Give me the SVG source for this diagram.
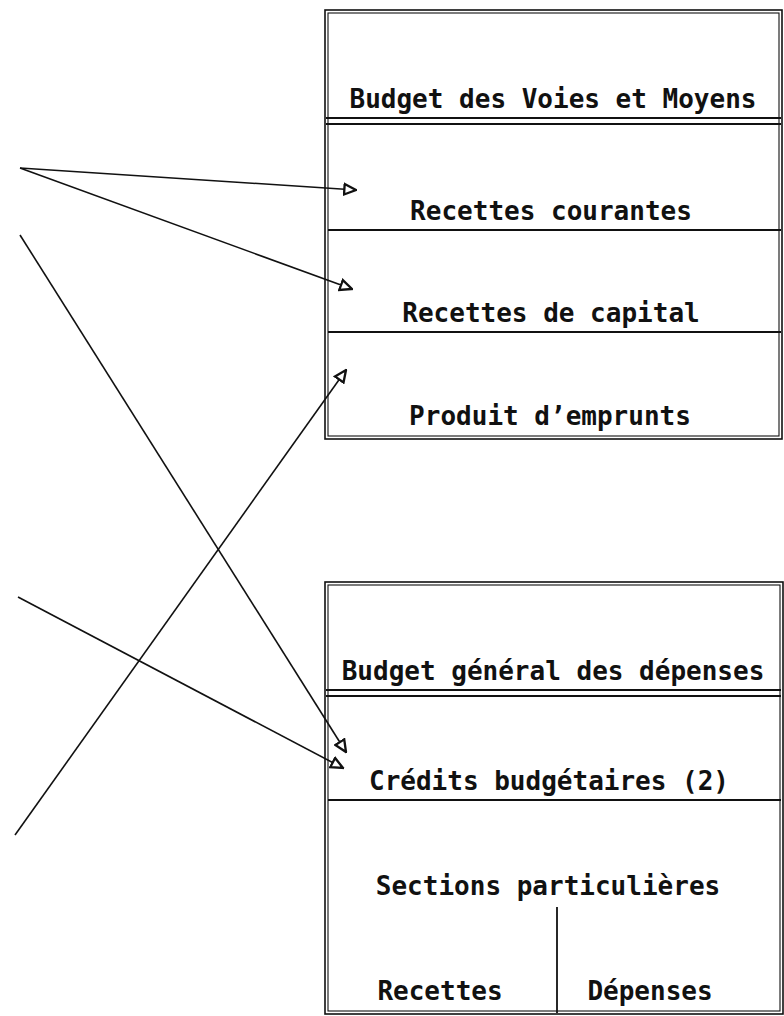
<svg xmlns="http://www.w3.org/2000/svg" width="784" height="1016" viewBox="0 0 784 1016">
<style>
.box{fill:none;stroke:#111;stroke-width:1.6}
.inner{fill:none;stroke:#111;stroke-width:1.1}
.div{stroke:#111;stroke-width:1.8}
.lbl{font-family:"DejaVu Sans Mono","Liberation Mono",monospace;font-size:26px;font-weight:bold;fill:#111;text-anchor:middle}
.con{stroke:#111;stroke-width:1.6;fill:none;marker-end:url(#arr)}
</style>
<defs>
<marker id="arr" markerUnits="userSpaceOnUse" markerWidth="14" markerHeight="14" viewBox="0 0 12 12" refX="11" refY="6" orient="auto">
<path d="M1,1.5 L11,6 L1,10.5 z" fill="#fff" stroke="#111" stroke-width="2"/>
</marker>
</defs>
<rect width="784" height="1016" fill="#fff"/>
<g id="budget-voies-moyens">
<rect class="box" x="325" y="10" width="457" height="429"/>
<rect class="inner" x="328" y="13" width="451" height="423"/>
<line class="div" x1="326" y1="118" x2="781" y2="118"/>
<line class="div" x1="326" y1="124" x2="781" y2="124"/>
<line class="div" x1="328" y1="230" x2="781" y2="230"/>
<line class="div" x1="328" y1="332" x2="781" y2="332"/>
<text class="lbl" x="553" y="108">Budget des Voies et Moyens</text>
</g>
<g id="recettes-courantes"><text class="lbl" x="551" y="220">Recettes courantes</text></g>
<g id="recettes-capital"><text class="lbl" x="551" y="322">Recettes de capital</text></g>
<g id="produit-emprunts"><text class="lbl" x="550" y="425">Produit d’emprunts</text></g>
<g id="budget-general-depenses">
<rect class="box" x="325" y="582" width="458" height="432"/>
<rect class="inner" x="328" y="585" width="452" height="426"/>
<line class="div" x1="326" y1="690" x2="781" y2="690"/>
<line class="div" x1="326" y1="696" x2="781" y2="696"/>
<line class="div" x1="328" y1="800" x2="781" y2="800"/>
<text class="lbl" x="553" y="680">Budget général des dépenses</text>
</g>
<g id="credits-budgetaires"><text class="lbl" x="549" y="790">Crédits budgétaires (2)</text></g>
<g id="sections-particulieres">
<text class="lbl" x="548" y="895">Sections particulières</text>
<line class="div" x1="557" y1="907" x2="557" y2="1013"/>
</g>
<g id="recettes"><text class="lbl" x="440" y="1000">Recettes</text></g>
<g id="depenses"><text class="lbl" x="650" y="1000">Dépenses</text></g>
<g id="connectors">
<line class="con" x1="20" y1="168" x2="356" y2="190"/>
<line class="con" x1="20" y1="168" x2="352" y2="289"/>
<line class="con" x1="20" y1="235" x2="346" y2="752"/>
<line class="con" x1="15" y1="835" x2="346" y2="370"/>
<line class="con" x1="18" y1="597" x2="343" y2="768"/>
</g>
</svg>
